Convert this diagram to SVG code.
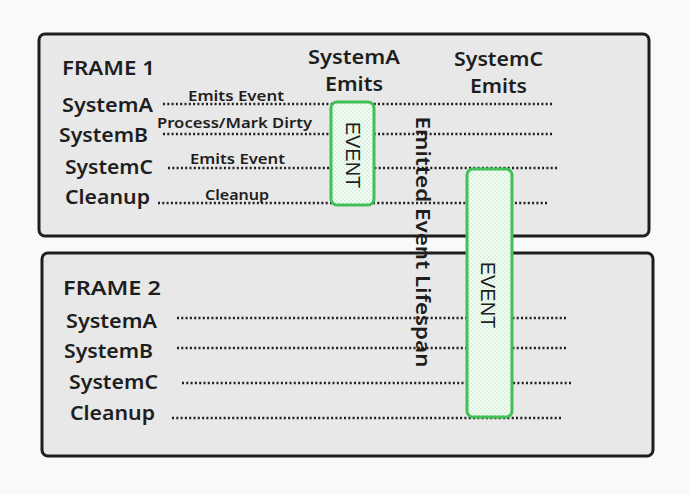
<svg xmlns="http://www.w3.org/2000/svg" width="690" height="494" viewBox="0 0 690 494">
<defs>
<pattern id="hatch" width="4" height="4" patternUnits="userSpaceOnUse">
<rect width="4" height="4" fill="#f7fcf8"/>
<circle cx="1" cy="1" r="0.7" fill="#9fe3aa"/>
<circle cx="3" cy="3" r="0.7" fill="#9fe3aa"/>
</pattern>
<style>
.frame{fill:#e8e8e8;stroke:#1e1e1e;stroke-width:3}
.ev{fill:url(#hatch);stroke:#40c057;stroke-width:3}
.t{font-family:"Noto Sans","Liberation Sans",sans-serif;fill:#1e1e1e;dominant-baseline:central;font-weight:600}
.lbl{font-size:19px}
.sm{font-size:14px}
.hd{font-size:20px}
.evt{font-family:"Liberation Sans",sans-serif;font-size:20px;fill:#1e1e1e;dominant-baseline:central;text-anchor:middle}
.dot{stroke:#1e1e1e;stroke-width:2.4;stroke-dasharray:2 2.3;fill:none}
</style>
</defs>
<rect width="690" height="494" fill="#f8f9fa"/>
<g id="frame1">
<rect class="frame" x="39" y="34" width="610" height="202" rx="6"/>
<text class="t hd" x="62" y="67" textLength="93" lengthAdjust="spacingAndGlyphs">FRAME 1</text>
<text class="t lbl" x="62" y="105" textLength="91" lengthAdjust="spacingAndGlyphs">SystemA</text>
<text class="t lbl" x="59" y="135" textLength="89" lengthAdjust="spacingAndGlyphs">SystemB</text>
<text class="t lbl" x="65" y="167" textLength="88" lengthAdjust="spacingAndGlyphs">SystemC</text>
<text class="t lbl" x="65" y="197" textLength="85" lengthAdjust="spacingAndGlyphs">Cleanup</text>
<text class="t sm" x="188" y="95" textLength="96" lengthAdjust="spacingAndGlyphs">Emits Event</text>
<text class="t sm" x="157" y="122" textLength="155" lengthAdjust="spacingAndGlyphs">Process/Mark Dirty</text>
<text class="t sm" x="190" y="158" textLength="95" lengthAdjust="spacingAndGlyphs">Emits Event</text>
<text class="t sm" x="205" y="194" textLength="64" lengthAdjust="spacingAndGlyphs">Cleanup</text>
<text class="t hd" x="308" y="56" textLength="92" lengthAdjust="spacingAndGlyphs">SystemA</text>
<text class="t hd" x="325" y="83" textLength="58" lengthAdjust="spacingAndGlyphs">Emits</text>
<text class="t hd" x="454" y="58" textLength="89" lengthAdjust="spacingAndGlyphs">SystemC</text>
<text class="t hd" x="470" y="85" textLength="57" lengthAdjust="spacingAndGlyphs">Emits</text>
</g>
<g id="frame2">
<rect class="frame" x="42" y="253" width="611" height="203" rx="6"/>
<text class="t hd" x="63" y="287" textLength="98" lengthAdjust="spacingAndGlyphs">FRAME 2</text>
<text class="t lbl" x="66" y="321" textLength="91" lengthAdjust="spacingAndGlyphs">SystemA</text>
<text class="t lbl" x="64" y="351" textLength="89" lengthAdjust="spacingAndGlyphs">SystemB</text>
<text class="t lbl" x="69" y="382" textLength="89" lengthAdjust="spacingAndGlyphs">SystemC</text>
<text class="t lbl" x="70" y="413" textLength="85" lengthAdjust="spacingAndGlyphs">Cleanup</text>
</g>
<g id="connectors">
<path class="dot" d="M163 104H553"/>
<path class="dot" d="M163 134H553"/>
<path class="dot" d="M168 168H558"/>
<path class="dot" d="M158 203H547"/>
<path class="dot" d="M177 318H567"/>
<path class="dot" d="M177 348H567"/>
<path class="dot" d="M182 383H573"/>
<path class="dot" d="M172 418H562"/>
</g>
<g id="event1">
<rect class="ev" x="331" y="102" width="43" height="103" rx="6"/>
<text class="evt" transform="translate(353 155) rotate(90)">EVENT</text>
</g>
<g id="lifespan">
<text class="t hd" text-anchor="middle" transform="translate(423 242) rotate(90)" textLength="251" lengthAdjust="spacingAndGlyphs">Emitted Event Lifespan</text>
</g>
<g id="event2">
<rect class="ev" x="467" y="169" width="45" height="248" rx="6"/>
<text class="evt" transform="translate(488 295) rotate(90)">EVENT</text>
</g>
</svg>
